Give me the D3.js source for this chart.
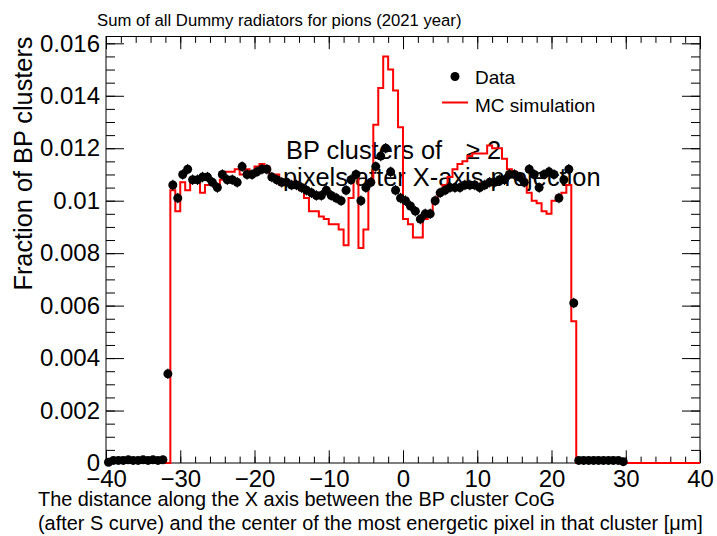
<!DOCTYPE html>
<html>
<head>
<meta charset="utf-8">
<script src="https://cdn.jsdelivr.net/npm/d3@7"></script>
<style>
  body { margin: 0; background: #fff; }
  svg { display: block; font-family: "Liberation Sans", Arial, sans-serif; }
</style>
</head>
<body>
<div id="chart"></div>
<script>
// histogram binning: 120 bins from -40 to 40
const xMin = -40;
const xMax = 40;

// data points, one per bin (fraction of BP clusters)
const dataValues = [
  0.00003, 0.0001, 0.0001, 0.0001, 0.00012, 0.0001, 0.0001, 0.00012, 0.0001, 0.00012,
  0.0001, 0.00012, 0.0034, 0.0106, 0.0101, 0.0110, 0.0112, 0.0108, 0.0108, 0.0109,
  0.0109, 0.0107, 0.0105, 0.0110, 0.0108, 0.0108, 0.0107, 0.0113, 0.0110, 0.0110,
  0.0111, 0.0112, 0.0112, 0.0109, 0.0108, 0.0107, 0.0107, 0.0106, 0.0106, 0.0105,
  0.0104, 0.0103, 0.0102, 0.0102, 0.0104, 0.0102, 0.0101, 0.0100, 0.0104, 0.0108,
  0.0110, 0.0100, 0.0105, 0.0107, 0.0113, 0.0117, 0.0120, 0.0111, 0.0104, 0.0101,
  0.0100, 0.0098, 0.0096, 0.0093, 0.0095, 0.0095, 0.0100, 0.0103, 0.0104, 0.0105,
  0.0105, 0.0105, 0.0106, 0.0106, 0.0106, 0.0105, 0.0106, 0.0107, 0.0107, 0.0108,
  0.0108, 0.0110, 0.0110, 0.0109, 0.0107, 0.0112, 0.0110, 0.0105, 0.0110, 0.0111,
  0.0110, 0.0101, 0.0108, 0.0112, 0.0061, 0.0001, 0.0001, 0.0001, 0.0001, 0.0001,
  0.0001, 0.0001, 0.0001, 0.0001, 0.00005, 0, 0, 0, 0, 0,
  0, 0, 0, 0, 0, 0, 0, 0, 0, 0
];
const dataError = 0.0002;

// MC simulation histogram, one per bin
const mcValues = [
  0, 0, 0, 0, 0, 0, 0, 0, 0, 0,
  0, 0, 0, 0.0104, 0.0096, 0.0107, 0.0104, 0.0107, 0.0107, 0.0103,
  0.0106, 0.0106, 0.0106, 0.0108, 0.0111, 0.0111, 0.0112, 0.0110, 0.0112, 0.0111,
  0.0113, 0.0114, 0.0113, 0.0110, 0.0110, 0.0106, 0.0106, 0.0107, 0.0105, 0.0104,
  0.0101, 0.0096, 0.0096, 0.0094, 0.0093, 0.0091, 0.0091, 0.0089, 0.0083, 0.0101,
  0.0109, 0.0082, 0.0089, 0.0107, 0.0129, 0.0143, 0.0155, 0.0150, 0.0142, 0.0128,
  0.0093, 0.0091, 0.0086, 0.0086, 0.0093, 0.0096, 0.0100, 0.0103, 0.0106, 0.0109,
  0.0112, 0.0114, 0.0115, 0.0117, 0.0118, 0.0118, 0.0118, 0.0121, 0.0120, 0.0120,
  0.0116, 0.0112, 0.0111, 0.0109, 0.0108, 0.0103, 0.0100, 0.0099, 0.0096, 0.0095,
  0.0100, 0.0102, 0.0103, 0.0106, 0.0054, 0, 0, 0, 0, 0,
  0, 0, 0, 0, 0, 0, 0, 0, 0, 0,
  0, 0, 0, 0, 0, 0, 0, 0, 0, 0
];

const xTickValues = [-40, -30, -20, -10, 0, 10, 20, 30, 40];
const yTickValues = [0, 0.002, 0.004, 0.006, 0.008, 0.01, 0.012, 0.014, 0.016];
const yMax = 0.01626;

const TITLE = "Sum of all Dummy radiators for pions (2021 year)";
const Y_TITLE = "Fraction of BP clusters";
const X_TITLE_1 = "The distance along the X axis between the BP cluster CoG";
const X_TITLE_2 = "(after S curve) and the center of the most energetic pixel in that cluster [\u03bcm]";

const width = 717;
const height = 536;
const margin = { top: 36.5, right: 17, bottom: 73, left: 106 };

const nBins = mcValues.length;
const binWidth = (xMax - xMin) / nBins;

const svg = d3.select("#chart")
    .append("svg")
    .attr("width", width)
    .attr("height", height);

const xScale = d3.scaleLinear()
    .domain([xMin, xMax])
    .range([margin.left, width - margin.right]);

const yScale = d3.scaleLinear()
    .domain([0, yMax])
    .range([height - margin.bottom, margin.top]);

const xMinor = d3.range(xMin, xMax + 0.001, 2);
const yMinor = d3.range(0, yMax, 0.0005);

const styleAxis = g => {
    g.select(".domain").remove();
    g.selectAll(".tick line").attr("stroke", "#000").attr("stroke-width", 1);
    g.selectAll("text").attr("fill", "#000").attr("font-size", 24)
        .attr("font-family", "'Liberation Sans', Arial, sans-serif");
};

// bottom axis
svg.append("g")
    .attr("transform", `translate(0,${yScale(0)})`)
    .call(d3.axisBottom(xScale).tickValues(xMinor).tickSize(-6.4).tickFormat(""))
    .call(styleAxis);
svg.append("g")
    .attr("transform", `translate(0,${yScale(0)})`)
    .call(d3.axisBottom(xScale).tickValues(xTickValues).tickSize(-12.7).tickPadding(7))
    .call(styleAxis);

// top axis
svg.append("g")
    .attr("transform", `translate(0,${margin.top})`)
    .call(d3.axisTop(xScale).tickValues(xMinor).tickSize(-6.4).tickFormat(""))
    .call(styleAxis);
svg.append("g")
    .attr("transform", `translate(0,${margin.top})`)
    .call(d3.axisTop(xScale).tickValues(xTickValues).tickSize(-12.7).tickFormat(""))
    .call(styleAxis);

// left axis
svg.append("g")
    .attr("transform", `translate(${margin.left},0)`)
    .call(d3.axisLeft(yScale).tickValues(yMinor).tickSize(-9).tickFormat(""))
    .call(styleAxis);
svg.append("g")
    .attr("transform", `translate(${margin.left},0)`)
    .call(d3.axisLeft(yScale).tickValues(yTickValues).tickSize(-18).tickPadding(6).tickFormat(d3.format("~g")))
    .call(styleAxis);

// right axis
svg.append("g")
    .attr("transform", `translate(${width - margin.right},0)`)
    .call(d3.axisRight(yScale).tickValues(yMinor).tickSize(-9).tickFormat(""))
    .call(styleAxis);
svg.append("g")
    .attr("transform", `translate(${width - margin.right},0)`)
    .call(d3.axisRight(yScale).tickValues(yTickValues).tickSize(-18).tickFormat(""))
    .call(styleAxis);

// frame
svg.append("rect")
    .attr("x", margin.left)
    .attr("y", margin.top)
    .attr("width", width - margin.left - margin.right)
    .attr("height", height - margin.top - margin.bottom)
    .attr("fill", "none")
    .attr("stroke", "#000")
    .attr("stroke-width", 1);

// titles
svg.append("text")
    .attr("x", 97)
    .attr("y", 26)
    .attr("font-size", 16.7)
    .text(TITLE);

svg.append("text")
    .attr("transform", `translate(31.5,${margin.top}) rotate(-90)`)
    .attr("text-anchor", "end")
    .attr("font-size", 25.3)
    .text(Y_TITLE);

svg.append("text")
    .attr("x", 38)
    .attr("y", 506)
    .attr("font-size", 19.9)
    .text(X_TITLE_1);

svg.append("text")
    .attr("x", 38)
    .attr("y", 530)
    .attr("font-size", 19.9)
    .text(X_TITLE_2);

// annotation (drawn under the histograms)
const note = svg.append("g").attr("font-size", 25.4);
note.append("text").attr("x", 286).attr("y", 159).text("BP clusters of");
note.append("text").attr("x", 466).attr("y", 159).text("\u2265");
note.append("text").attr("x", 487).attr("y", 159).text("2");
note.append("text").attr("x", 283).attr("y", 186).text("pixels after X-axis projection");

// MC histogram outline
const mcSteps = mcValues.map((v, i) => [xMin + i * binWidth, v]);
mcSteps.push([xMax, mcValues[nBins - 1]]);

const stepLine = d3.line()
    .x(d => xScale(d[0]))
    .y(d => yScale(d[1]))
    .curve(d3.curveStepAfter);

svg.append("path")
    .datum(mcSteps)
    .attr("fill", "none")
    .attr("stroke", "#ff0000")
    .attr("stroke-width", 2)
    .attr("d", stepLine);

// data points with error bars
const points = dataValues
    .map((v, i) => ({ x: xMin + (i + 0.5) * binWidth, v: v }))
    .filter(d => d.v > 0);

svg.append("g")
    .selectAll("line")
    .data(points.filter(d => d.v > 0.001))
    .join("line")
    .attr("x1", d => xScale(d.x))
    .attr("x2", d => xScale(d.x))
    .attr("y1", d => yScale(d.v - dataError))
    .attr("y2", d => yScale(d.v + dataError))
    .attr("stroke", "#000")
    .attr("stroke-width", 1);

svg.append("g")
    .selectAll("circle")
    .data(points)
    .join("circle")
    .attr("cx", d => xScale(d.x))
    .attr("cy", d => yScale(d.v))
    .attr("r", 4.5)
    .attr("fill", "#000");

// legend
const legend = svg.append("g").attr("font-size", 19);
legend.append("circle")
    .attr("cx", 455)
    .attr("cy", 76.5)
    .attr("r", 4.5)
    .attr("fill", "#000");
legend.append("text").attr("x", 475).attr("y", 83.5).text("Data");
legend.append("line")
    .attr("x1", 442)
    .attr("x2", 468)
    .attr("y1", 102.5)
    .attr("y2", 102.5)
    .attr("stroke", "#ff0000")
    .attr("stroke-width", 2);
legend.append("text").attr("x", 475).attr("y", 111.5).text("MC simulation");
</script>
</body>
</html>
